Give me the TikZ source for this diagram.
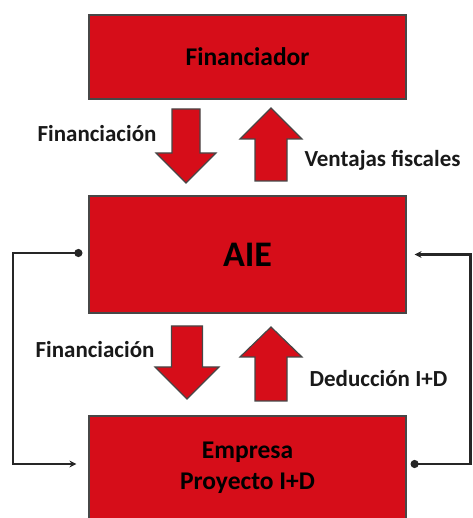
\documentclass[tikz,border=0pt]{standalone}
\usepackage{fontspec}
\setmainfont{Carlito}
\usetikzlibrary{arrows.meta}

\definecolor{aiered}{HTML}{D60D19}
\definecolor{edgegray}{HTML}{474747}

\begin{document}
\begin{tikzpicture}[x=1pt, y=1pt, >={Stealth[length=7pt,width=7pt]},
    caja/.style={draw=edgegray, line width=1.2pt, fill=aiered, minimum width=317pt,
      inner sep=0pt, align=center, font=\bfseries\fontsize{25.5}{31}\selectfont},
    etiqueta/.style={font=\bfseries\fontsize{23}{27}\selectfont, text=black!90},
    flecha/.style={draw=edgegray, line width=1.2pt, fill=aiered, line join=miter},
    enlace/.style={line width=2.6pt, black!85}]
    \useasboundingbox (0,0) rectangle (472,518);

    % cajas
    \node[caja, minimum height=84pt] (fin) at (247.5,461) {Financiador};
    \node[caja, minimum height=117pt, font=\bfseries\fontsize{36}{40}\selectfont] (aie) at (247.5,263.5) {AIE};
    \node[caja, minimum height=104pt] (emp) at (247.5,50) {Empresa\\Proyecto I+D};

    % flecha de bloque: \bloque{x}{y inicio}{y base punta}{y punta}{medio cuerpo}{media punta}
    \newcommand{\bloque}[6]{
      \draw[flecha] (#1-#5,#2) -- (#1+#5,#2) -- (#1+#5,#3) -- (#1+#6,#3)
        -- (#1,#4) -- (#1-#6,#3) -- (#1-#5,#3) -- cycle;
    }

    % entre Financiador y AIE
    \bloque{186}{409}{365}{335}{14}{30}
    \bloque{271}{337}{379}{410}{16}{31}
    % entre AIE y Empresa
    \bloque{187}{192}{151}{119}{15.5}{32}
    \bloque{271}{117}{161}{191}{16}{31}

    % etiquetas
    \node[etiqueta] (finA) at (97,384) {Financiación};
    \node[etiqueta] (ventajas) at (382.5,358) {Ventajas fiscales};
    \node[etiqueta] (finB) at (95,168) {Financiación};
    \node[etiqueta] (deduccion) at (378.5,139) {Deducción I+D};

    % enlaces laterales
    \coordinate (izq) at (13,0);
    \coordinate (der) at (470.5,0);
    \coordinate (a1) at ([xshift=-6pt,yshift=1.5pt]aie.west);
    \coordinate (a2) at ([xshift=-12pt,yshift=4pt]emp.west);
    \coordinate (b1) at ([xshift=4pt,yshift=4pt]emp.east);
    \coordinate (b2) at ([xshift=8pt]aie.east);
    \draw[enlace, {Circle[length=8pt]}->] (a1) -- (a1 -| izq) -- (a2 -| izq) -- (a2);
    \draw[enlace, {Circle[length=8pt]}->] (b1) -- (b1 -| der) -- (b2 -| der) -- (b2);
  \end{tikzpicture}
\end{document}
